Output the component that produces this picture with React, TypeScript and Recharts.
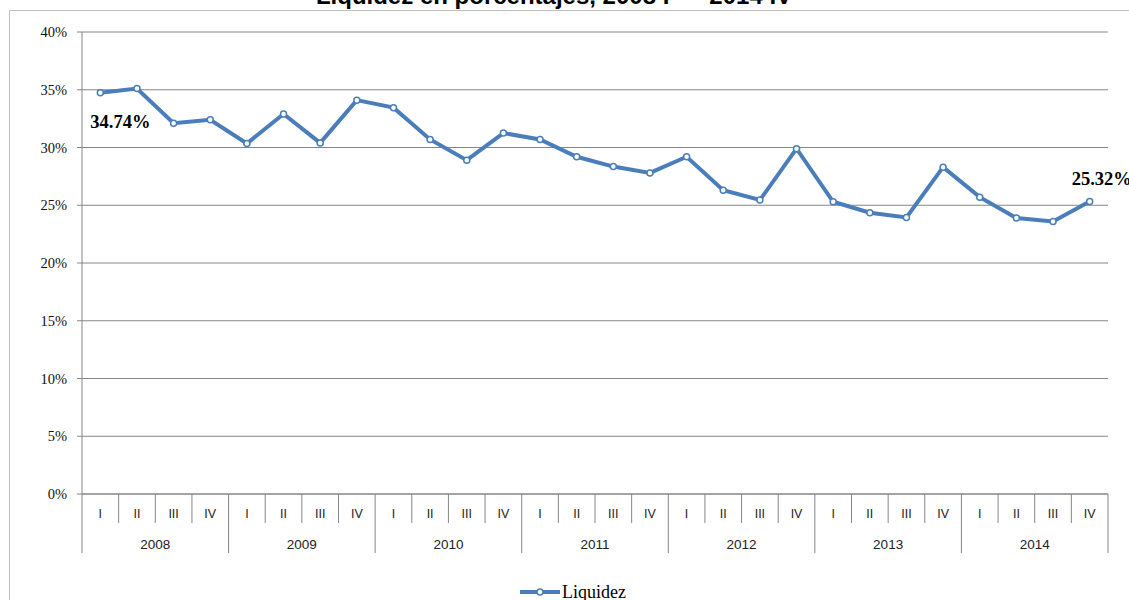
import { LineChart, Line, XAxis, YAxis, CartesianGrid, Legend, LabelList } from "recharts"

const years = ["2008", "2009", "2010", "2011", "2012", "2013", "2014"]
const quarterNames = ["I", "II", "III", "IV"]
const liquidez = [
  34.74, 35.1, 32.1, 32.4,
  30.35, 32.9, 30.4, 34.1,
  33.45, 30.7, 28.9, 31.25,
  30.7, 29.2, 28.35, 27.8,
  29.2, 26.3, 25.45, 29.9,
  25.3, 24.35, 23.95, 28.3,
  25.7, 23.9, 23.6, 25.32,
]
const yTicks = [0, 5, 10, 15, 20, 25, 30, 35, 40]

const data = years.flatMap((year, yi) =>
  quarterNames.map((q, qi) => ({ q, year, liquidez: liquidez[yi * 4 + qi] }))
)

const W = 1129
const H = 600
const Y_AXIS_W = 60
const X_AXIS_H = 60
const margin = { top: 32, right: 21, left: 22, bottom: 46 }
const PLOT_W = W - margin.left - Y_AXIS_W - margin.right
const BAND = PLOT_W / data.length
const GRID = "#868686"
const BLUE = "#4A7EBB"

function CategoryTick(props: any) {
  const { x, y, payload, index } = props
  const half = BAND / 2
  const first = index % 4 === 0
  const last = index === data.length - 1
  return (
    <g>
      <line x1={x - half} x2={x - half} y1={y} y2={y + (first ? 59 : 29)} stroke={GRID} />
      {last && <line x1={x + half} x2={x + half} y1={y} y2={y + 59} stroke={GRID} />}
      <text x={x} y={y + 24} textAnchor="middle" fontFamily="Liberation Sans" fontSize={12.5} fill="#222">
        {payload.value}
      </text>
      {first && (
        <text x={x + BAND * 1.5} y={y + 55} textAnchor="middle" fontFamily="Liberation Sans" fontSize={13.5} fill="#222">
          {data[index].year}
        </text>
      )}
    </g>
  )
}

function PercentTick(props: any) {
  const { x, y, payload } = props
  return (
    <text x={x} y={y} dy="0.35em" textAnchor="end" fontFamily="Liberation Serif" fontSize={14.5} fill="#111">
      {payload.value}%
    </text>
  )
}

function EndLabel(props: any) {
  const { x, y, value, index } = props
  if (index !== 0 && index !== data.length - 1) return null
  const first = index === 0
  return (
    <text
      x={first ? x - 10 : x - 18}
      y={first ? y + 35 : y - 17}
      fontFamily="Liberation Serif"
      fontWeight="bold"
      fontSize={18.5}
      fill="#000"
    >
      {value.toFixed(2)}%
    </text>
  )
}

function LegendBox() {
  return (
    <div style={{ display: "flex", alignItems: "center", height: 22 }}>
      <svg width={40} height={10}>
        <line x1={0} x2={40} y1={5} y2={5} stroke={BLUE} strokeWidth={4} />
        <circle cx={20} cy={5} r={3} fill="#fff" stroke={BLUE} strokeWidth={1.5} />
      </svg>
      <span style={{ fontFamily: "Liberation Serif", fontSize: 18, marginLeft: 2, color: "#000" }}>Liquidez</span>
    </div>
  )
}

export default function App() {
  return (
    <div style={{ position: "absolute", left: 0, top: 0, width: W, height: H, overflow: "hidden", background: "#fff" }}>
      <div
        style={{
          position: "absolute",
          left: 9,
          top: 10,
          width: 1200,
          height: 700,
          border: "1px solid #BFBFBF",
        }}
      />
      <div
        style={{
          position: "absolute",
          left: 0,
          top: -16,
          width: 1108,
          textAlign: "center",
          fontFamily: "Liberation Sans",
          fontWeight: "bold",
          fontSize: 24,
          lineHeight: "24px",
          whiteSpace: "pre",
        }}
      >
        {"Liquidez en porcentajes, 2008 I  –  2014 IV"}
      </div>
      <LineChart width={W} height={H} data={data} margin={margin}>
        <CartesianGrid stroke={GRID} vertical={false} />
        <XAxis
          dataKey="q"
          height={X_AXIS_H}
          interval={0}
          padding={{ left: BAND / 2, right: BAND / 2 }}
          tickLine={false}
          tickSize={0}
          tickMargin={0}
          axisLine={{ stroke: GRID }}
          tick={<CategoryTick />}
        />
        <YAxis
          width={Y_AXIS_W}
          domain={[0, 40]}
          ticks={yTicks}
          axisLine={{ stroke: GRID }}
          tickLine={{ stroke: GRID }}
          tickSize={5}
          tickMargin={10}
          tick={<PercentTick />}
        />
        <Legend
          layout="horizontal"
          verticalAlign="middle"
          align="center"
          wrapperStyle={{ top: 581, left: 520, width: 130, height: 22 }}
          content={() => <LegendBox />}
        />
        <Line
          type="linear"
          dataKey="liquidez"
          name="Liquidez"
          stroke={BLUE}
          strokeWidth={4}
          dot={{ r: 3, fill: "#fff", stroke: BLUE, strokeWidth: 1.5 }}
          activeDot={false}
          isAnimationActive={false}
        >
          <LabelList dataKey="liquidez" content={<EndLabel />} />
        </Line>
      </LineChart>
    </div>
  )
}
